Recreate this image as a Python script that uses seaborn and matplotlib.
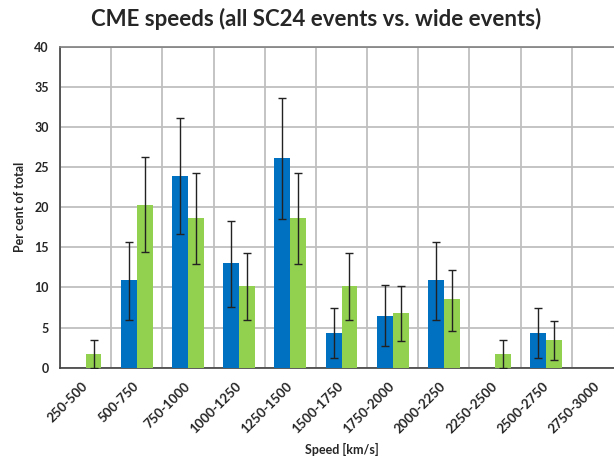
import numpy as np
import pandas as pd
import matplotlib
matplotlib.use("Agg")
import matplotlib.pyplot as plt
import seaborn as sns

categories = ["250-500", "500-750", "750-1000", "1000-1250", "1250-1500", "1500-1750",
              "1750-2000", "2000-2250", "2250-2500", "2500-2750", "2750-3000"]
series_names = ["All SC24 events", "Wide events"]
all_vals = [0.0, 10.9, 23.9, 13.0, 26.1, 4.3, 6.5, 10.9, 0.0, 4.3, 0.0]
all_lo = [np.nan, 5.9, 16.6, 7.6, 18.5, 1.2, 2.7, 5.9, np.nan, 1.2, np.nan]
all_hi = [np.nan, 15.7, 31.1, 18.3, 33.6, 7.4, 10.3, 15.7, np.nan, 7.4, np.nan]
wide_vals = [1.7, 20.3, 18.6, 10.2, 18.6, 10.2, 6.8, 8.5, 1.7, 3.4, 0.0]
wide_lo = [0.0, 14.4, 12.9, 5.9, 12.9, 5.9, 3.3, 4.6, 0.0, 0.9, np.nan]
wide_hi = [3.4, 26.2, 24.2, 14.3, 24.2, 14.3, 10.2, 12.2, 3.4, 5.8, np.nan]
colors = ["#0070C0", "#92D050"]

df = pd.DataFrame({
    "Speed": categories * 2,
    "Series": [series_names[0]] * len(categories) + [series_names[1]] * len(categories),
    "Value": all_vals + wide_vals,
})

sns.set_style("white")
plt.rcParams["font.family"] = ["Lato", "DejaVu Sans"]

fig = plt.figure(figsize=(6.14, 4.61), dpi=100)
ax = fig.add_axes([60 / 614, 1 - 367.7 / 461, 563 / 614, (367.7 - 46.7) / 461])

sns.barplot(data=df, x="Speed", y="Value", hue="Series", order=categories,
            hue_order=series_names, palette=colors, width=0.62, gap=0,
            errorbar=None, legend=False, ax=ax, zorder=3, saturation=1,
            edgecolor="none", linewidth=0)

los = [all_lo, wide_lo]
his = [all_hi, wide_hi]
vals = [all_vals, wide_vals]
bar_conts = list(ax.containers)
for k, cont in enumerate(bar_conts):
    for i, bar in enumerate(cont):
        lo, hi, v = los[k][i], his[k][i], vals[k][i]
        if np.isnan(lo):
            continue
        xc = bar.get_x() + bar.get_width() / 2
        ax.errorbar([xc], [v], yerr=[[v - lo], [hi - v]], fmt="none",
                    ecolor="#222222", elinewidth=1.0, capsize=3, capthick=1.0, zorder=4)

ax.set_xlim(-0.5, len(categories) - 0.5)
ax.set_ylim(0, 40)
ax.set_yticks(np.arange(0, 41, 5))
ax.set_yticklabels([str(v) for v in range(0, 41, 5)], fontsize=9, fontweight="bold")
ax.set_xticks(np.arange(len(categories)))
ax.set_xticklabels(categories, rotation=45, ha="right", va="center", rotation_mode="anchor",
                   fontsize=9.5, fontweight="bold")
ax.set_xticks(np.arange(len(categories) + 1) - 0.5, minor=True)
ax.tick_params(axis="x", which="major", length=0, pad=12)
ax.tick_params(axis="x", which="minor", length=5, width=1, color="#404040", direction="out")
ax.tick_params(axis="y", which="major", length=5, width=1, color="#404040", direction="out", pad=3)

ax.grid(axis="y", which="major", color="#BFBFBF", linewidth=1.3, zorder=0)
ax.grid(axis="x", which="minor", color="#BFBFBF", linewidth=1.3, zorder=0)
ax.grid(axis="x", which="major", visible=False)
ax.set_axisbelow(True)

for side in ["left", "bottom"]:
    ax.spines[side].set_color("#404040")
    ax.spines[side].set_linewidth(1.2)
ax.spines["top"].set_color("#7F7F7F")
ax.spines["top"].set_linewidth(1.2)
ax.spines["right"].set_visible(False)

ax.set_xlabel("Speed [km/s]", fontsize=9, fontweight="bold", labelpad=5)
ax.set_ylabel("Per cent of total", fontsize=9, fontweight="bold", labelpad=6)
fig.text(316 / 614, 1 - 18.5 / 461, "CME speeds (all SC24 events vs. wide events)",
         ha="center", va="center", fontsize=16, fontweight="bold")

fig.savefig("out.png", dpi=100)
